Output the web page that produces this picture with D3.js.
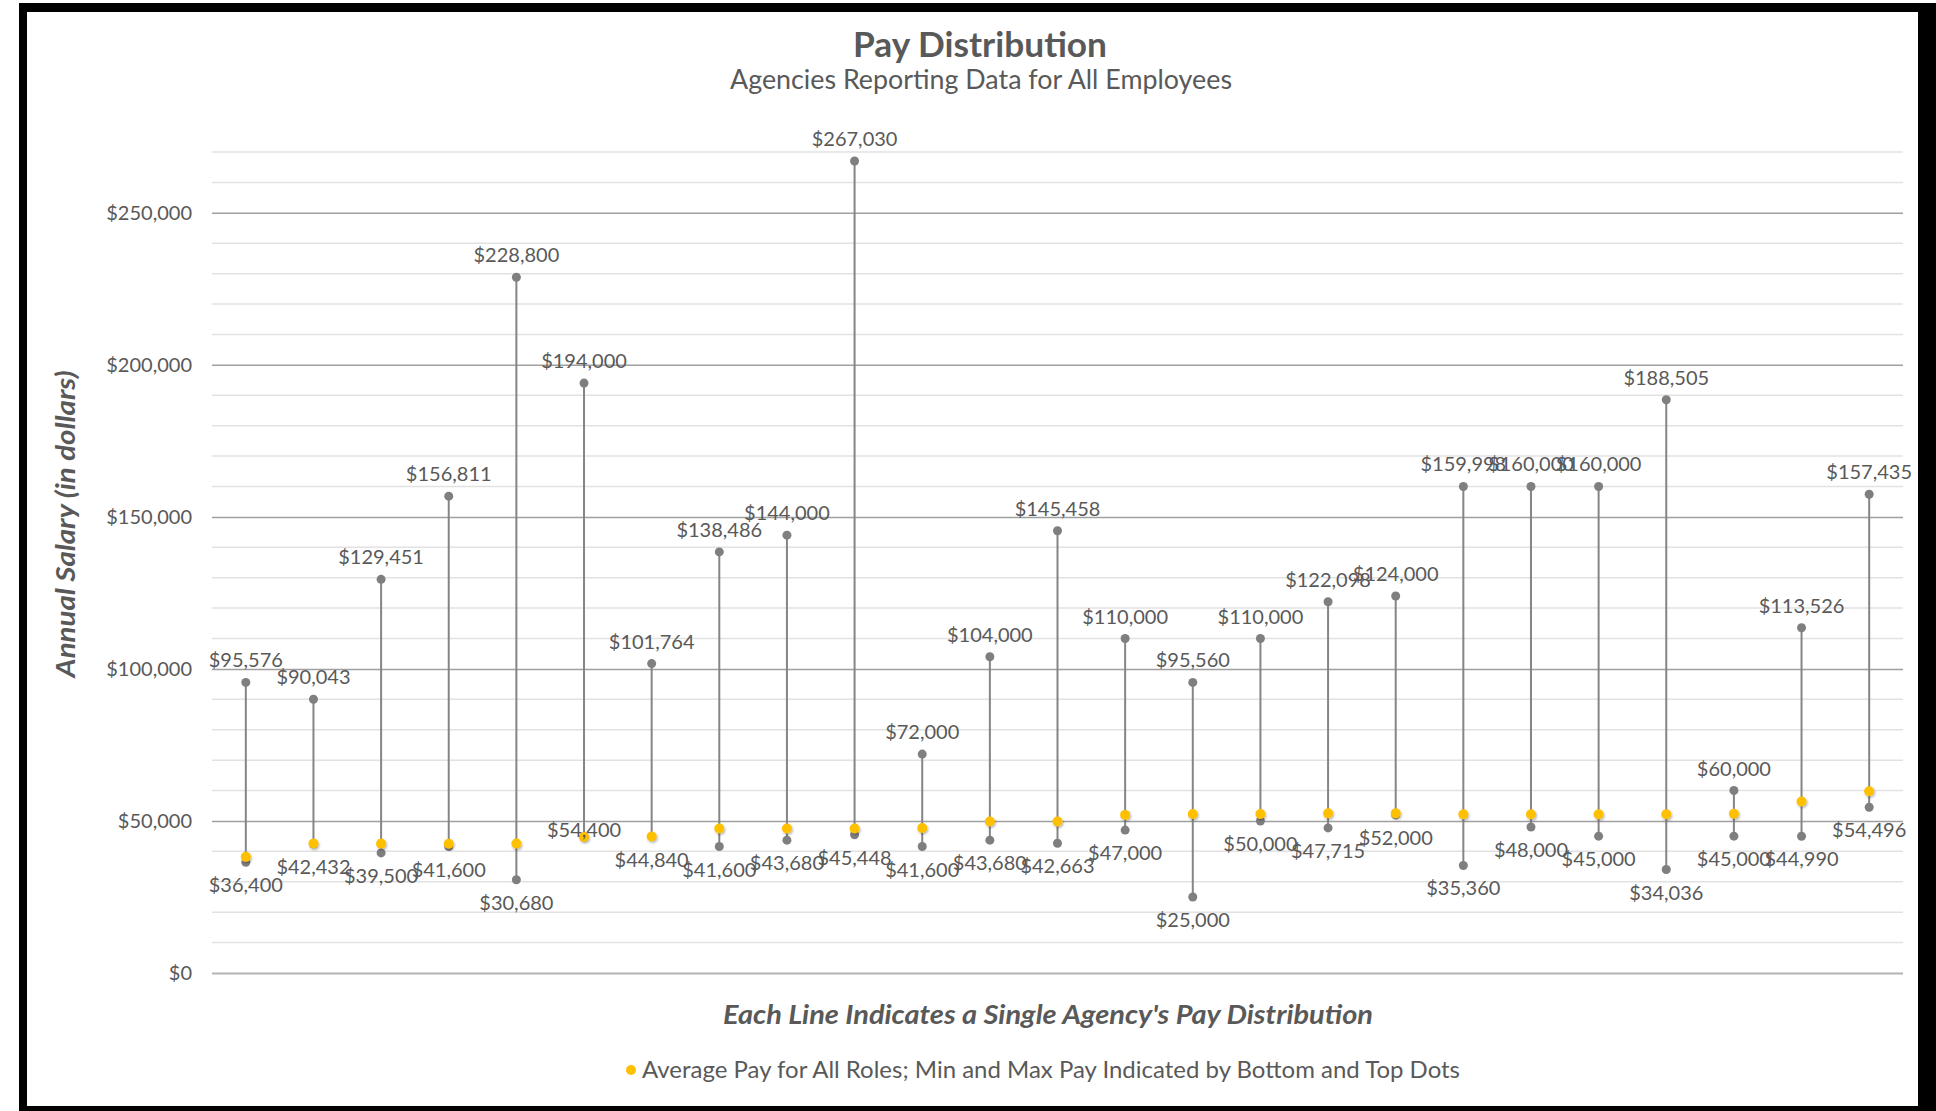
<!DOCTYPE html>
<html>
<head>
<meta charset="utf-8">
<script src="https://cdn.jsdelivr.net/npm/d3@7"></script>
<style>
  html, body { margin: 0; padding: 0; background: #fff; }
  svg { display: block; font-family: Lato, "Open Sans", sans-serif; }
</style>
</head>
<body>
<div id="chart"></div>
<script>
// values, one entry per agency
var agencies = d3.range(1, 26).map(function (i) { return "Agency " + i; });
var maxPay = [95576, 90043, 129451, 156811, 228800, 194000, 101764, 138486, 144000, 267030,
    72000, 104000, 145458, 110000, 95560, 110000, 122098, 124000, 159998, 160000,
    160000, 188505, 60000, 113526, 157435];
var minPay = [36400, 42432, 39500, 41600, 30680, 44600, 44840, 41600, 43680, 45448,
    41600, 43680, 42663, 47000, 25000, 50000, 47715, 52000, 35360, 48000,
    45000, 34036, 45000, 44990, 54496];
var avgPay = [38200, 42600, 42550, 42500, 42550, 44700, 44900, 47500, 47500, 47500,
    47700, 49800, 49800, 52000, 52300, 52300, 52500, 52500, 52200, 52200,
    52200, 52200, 52400, 56400, 59800];
var yTicks = [0, 50000, 100000, 150000, 200000, 250000];
var yMax = 270000;

// the min label on agency 6 reads differently and sits higher in the source chart
var minLabelText = { 5: "$54,400" };
var minLabelShift = { 5: -30 };

var W = 1936, H = 1111;
var plot = { left: 212, right: 1903, top: 152, bottom: 973 };
var textColor = "#595959";
var fmt = d3.format("$,");

var svg = d3.select("#chart")
    .append("svg")
    .attr("width", W)
    .attr("height", H);

// frame
svg.append("rect").attr("x", 0).attr("y", 0).attr("width", W).attr("height", H).attr("fill", "#fff");
svg.append("rect").attr("x", 19).attr("y", 3).attr("width", 8).attr("height", H).attr("fill", "#000");
svg.append("rect").attr("x", 1918).attr("y", 3).attr("width", 18).attr("height", H).attr("fill", "#000");
svg.append("rect").attr("x", 19).attr("y", 3).attr("width", W - 19).attr("height", 9).attr("fill", "#000");
svg.append("rect").attr("x", 19).attr("y", 1106).attr("width", W - 19).attr("height", 5).attr("fill", "#000");

var defs = svg.append("defs");
var shadow = defs.append("filter").attr("id", "shadow")
    .attr("x", "-50%").attr("y", "-50%").attr("width", "200%").attr("height", "200%");
shadow.append("feDropShadow").attr("dx", 1).attr("dy", 1.5).attr("stdDeviation", 1.2)
    .attr("flood-color", "#000").attr("flood-opacity", 0.3);

var x = d3.scaleBand()
    .domain(agencies)
    .range([plot.left, plot.right])
    .padding(0);
var cx = function (i) { return x(agencies[i]) + x.bandwidth() / 2; };

var y = d3.scaleLinear()
    .domain([0, yMax])
    .range([plot.bottom, plot.top]);

// minor gridlines every 10k
var minor = d3.range(10000, yMax + 1, 10000).filter(function (v) { return v % 50000 != 0; });
svg.append("g")
    .selectAll("line")
    .data(minor)
    .enter()
    .append("line")
    .attr("x1", plot.left).attr("x2", plot.right)
    .attr("y1", function (d) { return y(d); })
    .attr("y2", function (d) { return y(d); })
    .attr("stroke", "#e2e2e2")
    .attr("stroke-width", 1.5);

// y axis with major gridlines
var yAxis = svg.append("g")
    .attr("transform", "translate(" + plot.left + ",0)")
    .call(d3.axisLeft(y)
        .tickValues(yTicks)
        .tickFormat(fmt)
        .tickSize(-(plot.right - plot.left))
        .tickPadding(20));
yAxis.select(".domain").remove();
yAxis.selectAll(".tick line")
    .attr("stroke", function (d) { return d == 0 ? "#b4b4b4" : "#a0a0a0"; })
    .attr("stroke-width", function (d) { return d == 0 ? 2 : 1.5; });
yAxis.selectAll(".tick text")
    .attr("fill", textColor)
    .style("font-size", "20px")
    .style("font-family", "Lato, sans-serif");

// high-low lines
var rows = agencies.map(function (a, i) {
    return { i: i, max: maxPay[i], min: minPay[i], avg: avgPay[i] };
});
svg.append("g")
    .selectAll("line")
    .data(rows)
    .enter()
    .append("line")
    .attr("x1", function (d) { return cx(d.i); })
    .attr("x2", function (d) { return cx(d.i); })
    .attr("y1", function (d) { return y(Math.max(d.max, d.min, d.avg)); })
    .attr("y2", function (d) { return y(Math.min(d.max, d.min, d.avg)); })
    .attr("stroke", "#858585")
    .attr("stroke-width", 2);

// max and min dots
svg.append("g")
    .selectAll("circle")
    .data(rows)
    .enter()
    .append("circle")
    .attr("cx", function (d) { return cx(d.i); })
    .attr("cy", function (d) { return y(d.max); })
    .attr("r", 4.5)
    .attr("fill", "#7f7f7f");
svg.append("g")
    .selectAll("circle")
    .data(rows)
    .enter()
    .append("circle")
    .attr("cx", function (d) { return cx(d.i); })
    .attr("cy", function (d) { return y(d.min); })
    .attr("r", 4.5)
    .attr("fill", "#7f7f7f");

// average dots
svg.append("g")
    .selectAll("circle")
    .data(rows)
    .enter()
    .append("circle")
    .attr("cx", function (d) { return cx(d.i); })
    .attr("cy", function (d) { return y(d.avg); })
    .attr("r", 5)
    .attr("fill", "#FFC000")
    .attr("filter", "url(#shadow)");

// data labels
svg.append("g")
    .selectAll("text")
    .data(rows)
    .enter()
    .append("text")
    .attr("x", function (d) { return cx(d.i); })
    .attr("y", function (d) { return y(d.max) - 15; })
    .attr("text-anchor", "middle")
    .attr("fill", textColor)
    .style("font-size", "20px")
    .text(function (d) { return fmt(d.max); });
svg.append("g")
    .selectAll("text")
    .data(rows)
    .enter()
    .append("text")
    .attr("x", function (d) { return cx(d.i); })
    .attr("y", function (d) { return y(d.min) + 30 + (minLabelShift[d.i] || 0); })
    .attr("text-anchor", "middle")
    .attr("fill", textColor)
    .style("font-size", "20px")
    .text(function (d) { return minLabelText[d.i] || fmt(d.min); });

// titles, stretched to the widths they take in the reference
function label(x0, y0, size, txt, len) {
    return svg.append("text")
        .attr("x", x0).attr("y", y0)
        .attr("text-anchor", "middle")
        .attr("fill", textColor)
        .attr("textLength", len)
        .attr("lengthAdjust", "spacingAndGlyphs")
        .style("font-size", size + "px")
        .text(txt);
}
label(980, 57, 35, "Pay Distribution", 254).style("font-weight", "bold");
label(981, 89, 26, "Agencies Reporting Data for All Employees", 502);

label(0, 0, 26, "Annual Salary (in dollars)", 307)
    .attr("transform", "translate(75,524)rotate(-90)")
    .style("font-weight", "bold")
    .style("font-style", "italic");

label(1048, 1024, 27, "Each Line Indicates a Single Agency's Pay Distribution", 650)
    .style("font-weight", "bold")
    .style("font-style", "italic");

// legend
svg.append("circle")
    .attr("cx", 631).attr("cy", 1070)
    .attr("r", 5)
    .attr("fill", "#FFC000");
label(1051, 1078, 23, "Average Pay for All Roles; Min and Max Pay Indicated by Bottom and Top Dots", 818);
</script>
</body>
</html>
